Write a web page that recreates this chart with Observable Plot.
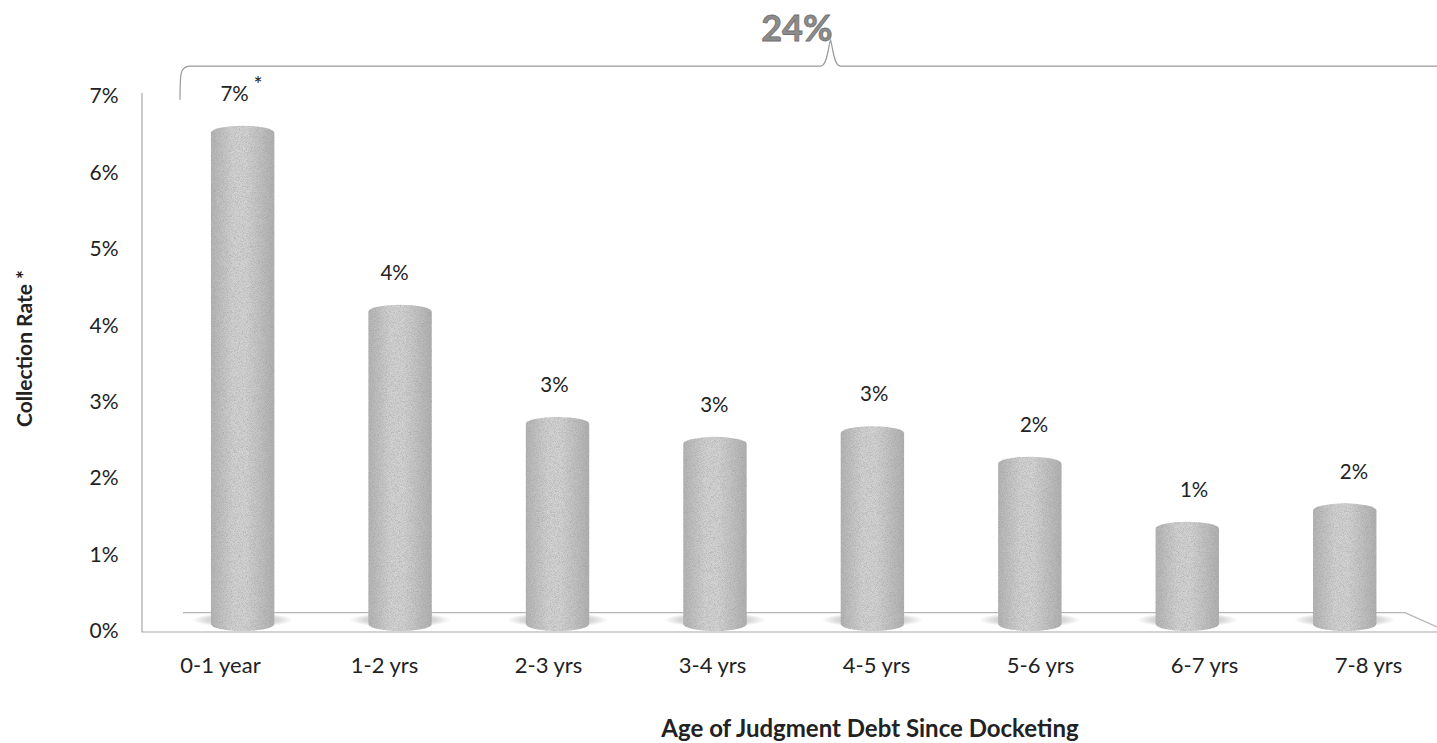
<!DOCTYPE html>
<html><head><meta charset="utf-8">
<script src="https://cdn.jsdelivr.net/npm/d3@7"></script>
<script src="https://cdn.jsdelivr.net/npm/@observablehq/plot@0.6"></script>
<style>
html,body{margin:0;padding:0;background:#fff;}
#chart{position:relative;width:1437px;height:743px;overflow:hidden;}
#chart svg{overflow:visible;}
</style></head><body><div id="chart"></div>
<script>
// ---- data ----
const categories = ["0-1 year", "1-2 yrs", "2-3 yrs", "3-4 yrs", "4-5 yrs", "5-6 yrs", "6-7 yrs", "7-8 yrs"];
const rates = [6.61, 4.27, 2.80, 2.54, 2.68, 2.28, 1.43, 1.67];
const yTicks = [0, 1, 2, 3, 4, 5, 6, 7];
const yTitle = "Collection Rate *";
const xTitle = "Age of Judgment Debt Since Docketing";
const footnoteMark = "*";

const fmt = v => d3.format(".0f")(v) + "%";
const data = categories.map((c, i) => ({category: c, rate: rates[i], label: fmt(rates[i])}));
const totalLabel = fmt(d3.sum(rates));

const W = 1437, H = 743;
const FONT = "Lato, 'Open Sans', sans-serif";

const chart = Plot.plot({
  width: W, height: H,
  marginLeft: 135, marginRight: -16, marginTop: 96, marginBottom: 112,
  style: {fontFamily: FONT, fontSize: "21px", color: "#222", background: "#fff", overflow: "visible"},
  x: {domain: categories, paddingInner: 0.6, paddingOuter: 0.3, label: null},
  y: {domain: [0, 7], label: null},
  marks: [
    Plot.axisX({tickSize: 0, tickPadding: 26, fontSize: 22, label: null}),
    Plot.axisY({ticks: yTicks, tickFormat: d => d + "%", tickSize: 0, tickPadding: 17, fontSize: 21, label: null}),
    // floor shadows under cylinders
    Plot.barY(data, {x: "category", y1: 0.05, y2: 0.24, fill: "url(#shadowGrad)", insetLeft: -20, insetRight: -20, rx: 50, ry: 8}),
    // cylinders
    Plot.barY(data, {x: "category", y: "rate", fill: "url(#cylGrad)", rx: 33, ry: 7}),
    // value labels
    Plot.text(data, {x: "category", y: "rate", text: "label", dy: -32, fontSize: 21, fill: "#222"}),
    Plot.text(data.slice(0, 1), {x: "category", y: "rate", text: () => footnoteMark, dx: 24, dy: -41, fontSize: 22, fill: "#222"})
  ]
});

const svg = d3.select(chart);
const xs = chart.scale("x"), ys = chart.scale("y");
const y0 = ys.apply(0), yTop = ys.apply(7);
const xStart = xs.range[0], xEnd = W;

// defs: gradients and grain
const defs = svg.insert("defs", ":first-child");
const g = defs.append("linearGradient").attr("id", "cylGrad").attr("x1", 0).attr("x2", 1).attr("y1", 0).attr("y2", 0);
[[0, "#b4b4b4"], [0.35, "#d2d2d2"], [0.55, "#d3d3d3"], [1, "#b0b0b0"]].forEach(([o, c]) => g.append("stop").attr("offset", o).attr("stop-color", c));
const sg = defs.append("radialGradient").attr("id", "shadowGrad");
[[0, "#bdbdbd"], [0.7, "#d8d8d8"], [1, "#ffffff"]].forEach(([o, c]) => sg.append("stop").attr("offset", o).attr("stop-color", c));
const f = defs.append("filter").attr("id", "grain").attr("x", 0).attr("y", 0).attr("width", 1).attr("height", 1);
f.append("feTurbulence").attr("type", "fractalNoise").attr("baseFrequency", 1.2).attr("numOctaves", 1).attr("seed", 3).attr("result", "n");
f.append("feColorMatrix").attr("in", "n").attr("type", "matrix")
  .attr("values", "0 0 0 0 0.3  0 0 0 0 0.3  0 0 0 0 0.3  0 0 0 1.4 -0.55").attr("result", "a");
f.append("feComposite").attr("in", "a").attr("in2", "SourceGraphic").attr("operator", "in").attr("result", "dots");
f.append("feMerge").selectAll("feMergeNode").data(["SourceGraphic", "dots"]).join("feMergeNode").attr("in", d => d);

// perspective: cylinders sit a little behind the front edge (wrap, keep Plot's own transforms)
const vx = (xStart + W) / 2;
function wrap(node, k) {
  const w = document.createElementNS("http://www.w3.org/2000/svg", "g");
  w.setAttribute("transform", `translate(${vx},0) scale(${k},1) translate(${-vx},0)`);
  node.parentNode.insertBefore(w, node);
  w.appendChild(node);
}
const barNodes = svg.selectAll('g[aria-label="bar"]').nodes();
const textNodes = svg.selectAll('g[aria-label="text"]').nodes();
barNodes.forEach(n => wrap(n, 0.96));
textNodes.forEach(n => wrap(n, 0.975));
d3.select(barNodes[1]).selectAll("rect").attr("filter", "url(#grain)");

// 3D floor and wall lines
const deco = svg.insert("g", () => barNodes[0].parentNode).attr("fill", "none").attr("stroke", "#a8a8a8").attr("stroke-width", 1.2);
const wallX = xStart + 7;
const backY = ys.apply(0.24);
deco.append("path").attr("d", `M${wallX},${ys.apply(7.04)}V${y0 + 1}H${xEnd}`);
deco.append("path").attr("d", `M${xs.apply(categories[0]) - 4},${backY}H${xEnd - 32}L${xEnd},${y0 - 4}`).attr("stroke", "#b5b5b5");

// brace spanning all age groups with the total
const braceY = ys.apply(7.39), tipY = ys.apply(7.73), endY = ys.apply(6.95);
const bx0 = xs.apply(categories[0]) - 7;
const bxEnd = W + 40;
const tipX = (bx0 + bxEnd) / 2 + 2;
const brace = svg.append("g").attr("fill", "none").attr("stroke", "#9a9a9a").attr("stroke-width", 1.2);
brace.append("path").attr("d",
  `M${bx0},${endY} C${bx0},${braceY + 8} ${bx0},${braceY} ${bx0 + 10},${braceY}` +
  ` H${tipX - 10} C${tipX - 3},${braceY} ${tipX - 2},${tipY + 4} ${tipX},${tipY}` +
  ` C${tipX + 2},${tipY + 4} ${tipX + 3},${braceY} ${tipX + 10},${braceY} H${bxEnd}`);
svg.append("text").attr("x", tipX + 2).attr("y", tipY + 1).attr("text-anchor", "end")
  .attr("font-family", FONT).attr("font-weight", "bold").attr("font-size", 36)
  .attr("fill", "#8c8c8c").attr("stroke", "#707070").attr("stroke-width", 0.8).text(totalLabel);

// axis titles
svg.append("text").attr("transform", `translate(${wallX - 110},${(y0 + yTop) / 2 - 15}) rotate(-90)`)
  .attr("text-anchor", "middle").attr("font-family", FONT).attr("font-weight", "bold").attr("font-size", 21)
  .attr("fill", "#222").text(yTitle);
svg.append("text").attr("x", (xStart + xs.range[1]) / 2 + 76).attr("y", H - 6).attr("text-anchor", "middle")
  .attr("font-family", FONT).attr("font-weight", "bold").attr("font-size", 24).attr("fill", "#222").text(xTitle);

document.getElementById("chart").appendChild(chart);
</script>
</body></html>
